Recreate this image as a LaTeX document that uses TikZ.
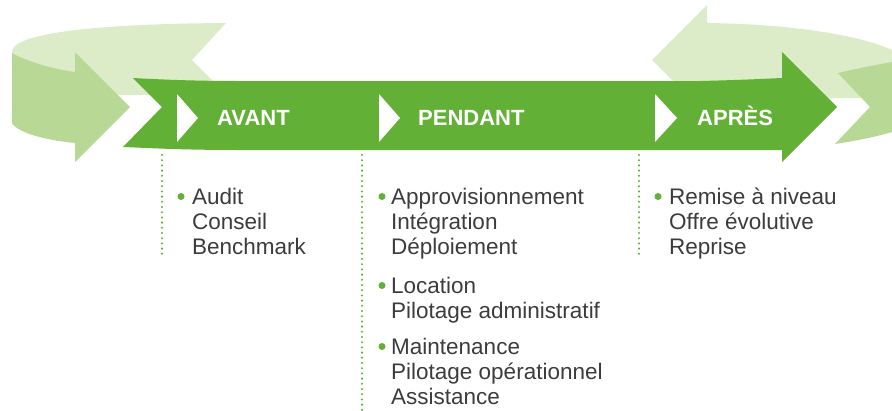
\documentclass[tikz,border=0pt]{standalone}
\usepackage{fontspec}
\setmainfont{Liberation Sans}
\definecolor{maingreen}{RGB}{99,176,54}
\definecolor{midgreen}{RGB}{184,216,150}
\definecolor{lightgreen}{RGB}{220,236,200}
\definecolor{txtgray}{RGB}{60,60,60}
\tikzset{
  phase/.style={anchor=base west, inner sep=0pt, text=white, font=\fontsize{22}{26}\selectfont\bfseries},
  item/.style={anchor=base west, inner sep=0pt, text=txtgray, font=\fontsize{22.5}{25}\selectfont},
  bulletdot/.style={circle, fill=maingreen, minimum size=7pt, inner sep=0pt},
  sep/.style={draw=maingreen, line width=2.3pt, line cap=round, dash pattern=on 0pt off 5.2pt},
}
\begin{document}
\begin{tikzpicture}[x=1pt,y=-1pt]
\useasboundingbox (0,0) rectangle (892,410);
% back light pieces
\fill[lightgreen] (12,52) .. controls (12,35) and (80,24) .. (226,23) -- (192,60) -- (227,95) -- (115,95) .. controls (50,90) and (12,65) .. (12,53) -- cycle;
\fill[lightgreen] (707,5) -- (652,60) -- (690,98) -- (870,98) -- (892,70) -- (892,50) .. controls (860,35) and (790,24) .. (707,23) -- cycle;
% front medium pieces
\fill[midgreen] (12,53) .. controls (20,58) and (45,68) .. (75,72) -- (75,52) -- (130,107) -- (75,162) -- (75,143) .. controls (45,140) and (18,133) .. (12,123) -- cycle;
\fill[midgreen] (838,73) .. controls (860,68) and (880,64) .. (892,62) -- (892,132) .. controls (875,137) and (855,141) .. (835,144) -- (870,107) -- cycle;
% main arrow
\fill[maingreen] (133,78) .. controls (170,80) and (200,81) .. (240,81) -- (700,81) .. controls (740,80) and (760,79) .. (782,78) -- (782,52) -- (837,107) -- (782,162) -- (782,150) -- (240,150) .. controls (180,150) and (150,148) .. (123,147) -- (162,107) -- cycle;
% white triangles
\fill[white] (177,94) -- (198,118) -- (177,142) -- cycle;
\fill[white] (379,94) -- (400,118) -- (379,142) -- cycle;
\fill[white] (655,94) -- (677,118) -- (655,142) -- cycle;
% phase labels
\node[phase] (avant) at (217,125) {AVANT};
\node[phase] (pendant) at (418,125) {PENDANT};
\node[phase] (apres) at (697,125) {APRÈS};
% separators
\coordinate (s1a) at (162,155); \coordinate (s1b) at (162,258);
\coordinate (s2a) at (362,155); \coordinate (s2b) at (362,410);
\coordinate (s3a) at (639,155); \coordinate (s3b) at (639,258);
\draw[sep] (s1a) -- (s1b);
\draw[sep] (s2a) -- (s2b);
\draw[sep] (s3a) -- (s3b);
% bullets
\node[bulletdot] (b1) at (181,196.5) {};
\node[bulletdot] (b2) at (382,196.5) {};
\node[bulletdot] (b3) at (382,285.5) {};
\node[bulletdot] (b4) at (382,346.5) {};
\node[bulletdot] (b5) at (658,196.5) {};
% items
\node[item] (a1) at (192,204) {Audit};
\node[item] (a2) at (192,229) {Conseil};
\node[item] (a3) at (192,254) {Benchmark};
\node[item] (p1) at (391,204) {Approvisionnement};
\node[item] (p2) at (391,229) {Intégration};
\node[item] (p3) at (391,254) {Déploiement};
\node[item] (p4) at (391,293) {Location};
\node[item] (p5) at (391,318) {Pilotage administratif};
\node[item] (p6) at (391,354) {Maintenance};
\node[item] (p7) at (391,379) {Pilotage opérationnel};
\node[item] (p8) at (391,404) {Assistance};
\node[item] (r1) at (669,204) {Remise à niveau};
\node[item] (r2) at (669,229) {Offre évolutive};
\node[item] (r3) at (669,254) {Reprise};
\end{tikzpicture}
\end{document}
